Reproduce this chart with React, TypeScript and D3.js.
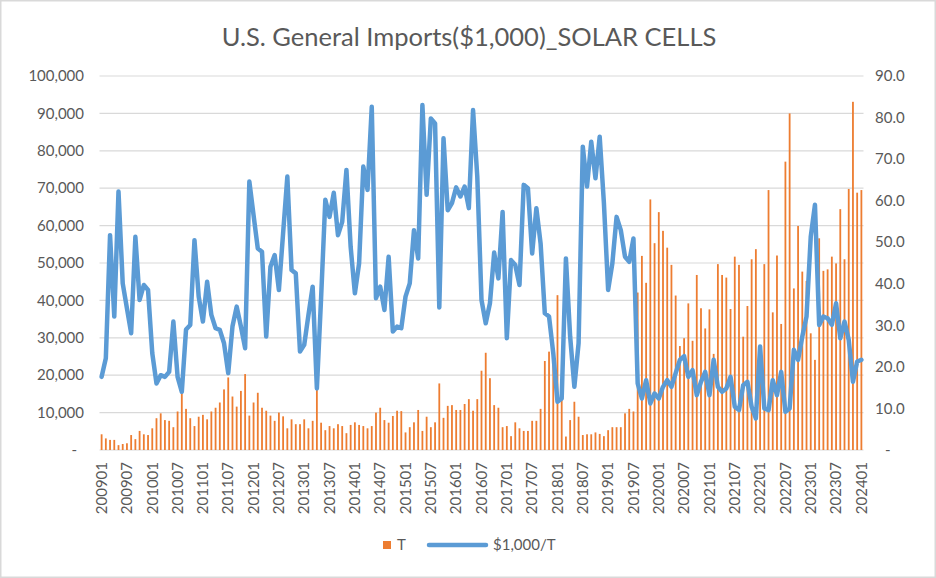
import { useEffect, useRef } from 'react';
import * as d3 from 'd3';

// monthly quantity (thousand T), 200901..202401
const tons = [
  4.2, 3.1, 2.7, 2.7, 1.3, 1.6, 1.8, 4.0, 2.9, 5.1, 4.2, 4.0, 5.8, 8.5, 9.8, 8.0, 7.8, 6.1, 10.3, 15.6, 11.0,
  8.5, 6.4, 8.9, 9.4, 8.2, 10.3, 11.3, 12.7, 16.2, 19.4, 14.3, 11.6, 15.8, 20.3, 9.2, 12.7, 15.3, 11.3, 10.5, 9.2, 7.8, 10.0, 9.0,
  5.8, 8.2, 6.9, 6.9, 8.2, 5.8, 7.8, 16.2, 7.3, 5.3, 6.4, 5.8, 6.9, 6.4, 4.5, 6.7, 7.4, 6.7, 6.4, 5.8, 6.4, 10.0, 11.3,
  8.0, 7.3, 9.1, 10.5, 10.4, 4.7, 6.1, 7.4, 10.7, 5.1, 8.9, 6.1, 7.4, 17.8, 8.6, 11.8, 12.0, 10.7, 10.7, 12.3, 13.6, 10.5,
  13.6, 21.2, 26.0, 19.2, 12.0, 11.3, 6.1, 6.4, 3.7, 7.4, 5.8, 5.1, 5.1, 7.8, 7.8, 11.0, 23.8, 26.3, 24.2, 41.4, 13.6, 3.6, 8.0,
  12.9, 8.9, 4.0, 4.2, 4.2, 4.7, 4.3, 3.7, 5.3, 6.1, 6.1, 6.1, 9.8, 11.0, 10.3, 42.1, 51.9, 44.7, 67.0, 55.3, 63.6, 58.6,
  54.1, 49.5, 41.3, 27.8, 29.9, 39.2, 29.2, 46.8, 37.9, 32.5, 37.6, 25.7, 49.7, 46.8, 46.1, 37.7, 51.7, 49.5, 30.3, 38.5, 51.0, 53.7,
  24.0, 49.7, 69.5, 36.8, 52.0, 33.7, 77.1, 90.0, 43.2, 59.9, 47.7, 45.2, 31.2, 24.1, 56.6, 47.9, 48.3, 51.7, 49.9, 64.4, 51.0, 69.8, 93.1, 68.8, 69.5,
];

// $1,000 per T (right axis)
const pricePerTon = [
  17.6, 22.1, 51.7, 32.1, 62.2, 40.1, 34.1, 28.1, 51.3, 36.1, 39.7, 38.5, 23.3, 16.0, 18.0, 17.6, 18.8, 30.9, 17.6, 14.0, 29.0,
  30.1, 50.5, 36.9, 30.9, 40.5, 32.5, 29.3, 28.9, 25.7, 18.5, 29.7, 34.5, 29.7, 24.5,
  64.6, 56.5, 48.5, 47.7, 27.3, 44.1, 46.9, 38.5, 52.2, 65.8, 43.3, 42.5,
  23.7, 25.3, 32.5, 39.3, 14.8, 36.6, 60.2, 56.1, 61.9, 51.7, 54.9, 67.4, 48.9, 37.7,
  44.9, 68.2, 62.6, 82.6, 36.5,
  39.3, 33.7, 46.5, 28.5, 29.7, 29.3, 36.9, 40.1, 52.9, 46.1, 83.0, 61.4, 79.8, 78.6, 34.3, 75.0, 57.7, 59.4, 63.2, 61.0, 63.4, 58.2, 81.8,
  65.8, 36.1, 30.5, 35.3, 47.5, 41.3, 57.3, 26.9, 45.7, 44.5, 39.7, 63.8, 63.0, 47.3, 58.2, 49.7, 32.9, 32.1, 23.3, 11.6, 12.4, 46.1,
  27.3, 15.2, 25.7, 73.0, 63.4, 74.2, 65.4, 75.4, 59.4, 38.5, 44.9, 56.1, 52.9, 46.5, 45.3, 50.9, 16.0, 12.4, 16.8, 11.2, 13.6, 12.4, 15.2,
  16.8, 15.2, 18.5, 21.7, 22.6, 17.6, 19.2, 13.2, 16.4, 18.8, 13.2, 21.7, 15.2, 14.0, 14.8, 17.6, 10.4, 9.6, 15.6, 16.4, 10.4, 7.6,
  24.9, 10.0, 9.6, 16.8, 13.2, 18.8, 9.2, 10.0, 24.1, 21.7, 27.3, 32.1, 51.3, 59.0, 30.1, 32.1, 31.7, 30.1, 35.3, 26.9, 30.9, 26.5, 16.4, 21.3, 21.7,
];

const leftTicks = [0, 10000, 20000, 30000, 40000, 50000, 60000, 70000, 80000, 90000, 100000];
const rightTicks = [0, 10, 20, 30, 40, 50, 60, 70, 80, 90];

const title = 'U.S. General Imports($1,000)_SOLAR CELLS';
const FONT = 'Lato, "Open Sans", sans-serif';
const TEXT = '#595959';
const ORANGE = '#ED7D31';
const BLUE = '#5B9BD5';

function buildMonths(count: number) {
  const out: string[] = [];
  for (let k = 0; k < count; k++) {
    const y = 2009 + Math.floor(k / 12);
    const m = (k % 12) + 1;
    out.push(`${y}${m < 10 ? '0' : ''}${m}`);
  }
  return out;
}

const months = buildMonths(tons.length);

function drawChart(el: SVGSVGElement) {
  const svg = d3.select(el);
  svg.selectAll('*').remove();

  const width = 936;
  const height = 578;
  const plot = { left: 99.5, right: 863.5, top: 76, bottom: 450 };

  svg.append('rect')
    .attr('x', 0.75).attr('y', 0.75)
    .attr('width', width - 1.5).attr('height', height - 1.5)
    .attr('fill', '#fff').attr('stroke', '#D9D9D9').attr('stroke-width', 1.5);

  const x = d3.scaleBand<string>().domain(months).range([plot.left, plot.right]).padding(0);
  const yL = d3.scaleLinear().domain([0, 100000]).range([plot.bottom, plot.top]);
  const yR = d3.scaleLinear().domain([0, 90]).range([plot.bottom, plot.top]);
  const cx = (m: string) => (x(m) ?? 0) + x.bandwidth() / 2;

  // gridlines (left axis)
  svg.append('g')
    .selectAll('line')
    .data(leftTicks)
    .join('line')
    .attr('x1', plot.left).attr('x2', plot.right)
    .attr('y1', (d: number) => yL(d)).attr('y2', (d: number) => yL(d))
    .attr('stroke', '#D9D9D9').attr('stroke-width', 1.2);

  // bars
  const barW = 1.8;
  svg.append('g')
    .selectAll('rect')
    .data(tons)
    .join('rect')
    .attr('x', (_d: number, i: number) => cx(months[i]) - barW / 2)
    .attr('y', (d: number) => yL(d * 1000))
    .attr('width', barW)
    .attr('height', (d: number) => yL(0) - yL(d * 1000))
    .attr('fill', ORANGE);

  // line
  const line = d3.line<number>()
    .x((_d, i) => cx(months[i]))
    .y((d) => yR(d));
  svg.append('path')
    .datum(pricePerTon)
    .attr('d', line)
    .attr('fill', 'none')
    .attr('stroke', BLUE)
    .attr('stroke-width', 4.5)
    .attr('stroke-linejoin', 'round')
    .attr('stroke-linecap', 'round');

  // left axis labels
  svg.append('g')
    .selectAll('text')
    .data(leftTicks)
    .join('text')
    .attr('x', (d: number) => (d === 0 ? 77 : 84))
    .attr('y', (d: number) => yL(d))
    .attr('dy', '0.35em')
    .attr('text-anchor', 'end')
    .attr('font-family', FONT).attr('font-size', 15).attr('fill', TEXT)
    .text((d: number) => (d === 0 ? '-' : d3.format(',')(d)));

  // right axis labels
  svg.append('g')
    .selectAll('text')
    .data(rightTicks)
    .join('text')
    .attr('x', (d: number) => (d === 0 ? 885 : 875))
    .attr('y', (d: number) => yR(d))
    .attr('dy', '0.35em')
    .attr('text-anchor', 'start')
    .attr('font-family', FONT).attr('font-size', 15).attr('fill', TEXT)
    .text((d: number) => (d === 0 ? '-' : d.toFixed(1)));

  // category labels every 6 months
  const shown = months.filter((_m, i) => i % 6 === 0);
  svg.append('g')
    .selectAll('text')
    .data(shown)
    .join('text')
    .attr('transform', (m: string) => `translate(${cx(m)},${plot.bottom + 12}) rotate(-90)`)
    .attr('dy', '0.35em')
    .attr('text-anchor', 'end')
    .attr('font-family', FONT).attr('font-size', 15).attr('fill', TEXT)
    .text((m: string) => m);

  // title
  svg.append('text')
    .attr('x', 469).attr('y', 46)
    .attr('text-anchor', 'middle')
    .attr('font-family', FONT).attr('font-size', 25.5).attr('fill', TEXT)
    .text(title);

  // legend
  const lg = svg.append('g');
  lg.append('rect').attr('x', 383).attr('y', 541).attr('width', 8).attr('height', 8).attr('fill', ORANGE);
  lg.append('text').attr('x', 397).attr('y', 545).attr('dy', '0.35em')
    .attr('font-family', FONT).attr('font-size', 15).attr('fill', TEXT).text('T');
  lg.append('line').attr('x1', 429).attr('x2', 486).attr('y1', 545).attr('y2', 545)
    .attr('stroke', BLUE).attr('stroke-width', 4.5).attr('stroke-linecap', 'round');
  lg.append('text').attr('x', 493).attr('y', 545).attr('dy', '0.35em')
    .attr('font-family', FONT).attr('font-size', 15).attr('fill', TEXT).text('$1,000/T');
}

export default function App() {
  const ref = useRef<SVGSVGElement>(null);

  useEffect(() => {
    if (ref.current) {
      drawChart(ref.current);
    }
  }, []);

  return (
    <div style={{ position: 'absolute', left: 0, top: 0 }}>
      <svg ref={ref} width={936} height={578} style={{ display: 'block' }} />
    </div>
  );
}
